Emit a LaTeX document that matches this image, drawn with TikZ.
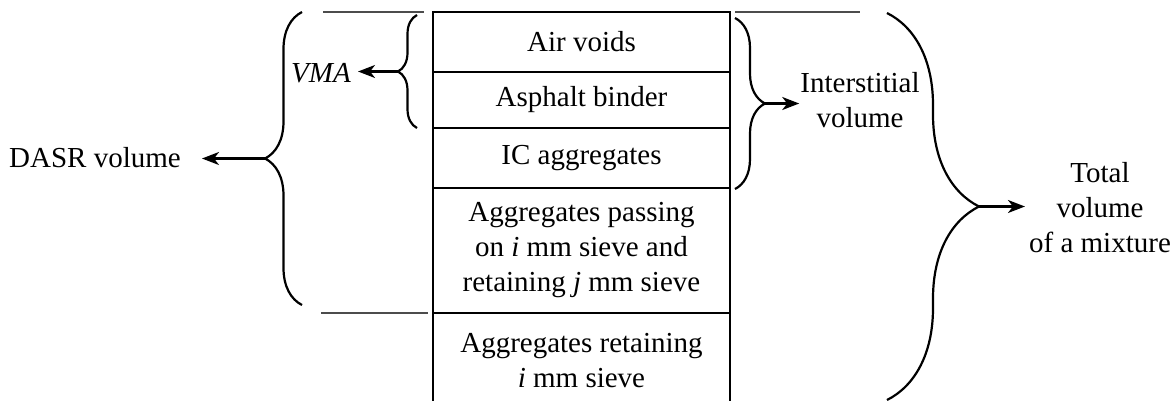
\documentclass[tikz,border=0pt]{standalone}
\usepackage{fontspec}
\setmainfont{Liberation Serif}
\usetikzlibrary{calc,arrows.meta,positioning,decorations.pathreplacing}

\begin{document}
\begin{tikzpicture}[x=1pt,y=-1pt,
    cell/.style={draw,line width=2.5pt,outer sep=0pt,minimum width=297pt,align=center,inner sep=0pt},
    brc/.style={decorate,decoration={brace,amplitude=#1},line width=2.2pt},
    guide/.style={black!70,line width=1.3pt},
    pointer/.style={-{Stealth[length=17pt,width=13pt,inset=5pt]},line width=2.2pt},
    lbl/.style={align=center,inner sep=0pt},
    every node/.style={font=\fontsize{29}{35}\selectfont}]

  \useasboundingbox (0,0) rectangle (1176,400);
  \clip (0,0) rectangle (1176,400);

  %% Column of the mixture
  \node[cell,minimum height=60pt,anchor=north] (air) at (581.5,12) {Air voids};
  \node[cell,minimum height=56pt,below=0pt of air] (binder) {Asphalt binder};
  \node[cell,minimum height=60pt,below=0pt of binder] (ic) {IC aggregates};
  \node[cell,minimum height=125pt,below=0pt of ic] (pass)
    {Aggregates passing\\on \textit{i} mm sieve and\\retaining \textit{j} mm sieve};
  \node[cell,minimum height=95pt,below=0pt of pass] (retain)
    {Aggregates retaining\\\textit{i} mm sieve};

  %% thin guide lines
  \draw[guide] (323,12) -- (424,12);
  \draw[guide] (735,12) -- (860,12);
  \draw[guide] (321,313) -- (428,313);

  %% brace ends and tips
  \coordinate (dasrtop) at (302,12);
  \coordinate (dasrbot) at (302,305);
  \coordinate (dasrtip) at ($(dasrtop)!.5!(dasrbot)+(-37,0)$);
  \coordinate (vmatop) at (417,15);
  \coordinate (vmabot) at (417,128);
  \coordinate (vmatip) at ($(vmatop)!.5!(vmabot)+(-19,0)$);
  \coordinate (istop) at (735,18);
  \coordinate (isbot) at (735,189);
  \coordinate (istip) at ($(istop)!.5!(isbot)+(30,0)$);
  \coordinate (tottop) at (887,13);
  \coordinate (totbot) at (887,400);
  \coordinate (tottip) at ($(tottop)!.5!(totbot)+(92,0)$);

  \draw[brc=37pt] (dasrbot) -- (dasrtop);
  \draw[brc=19pt] (vmabot) -- (vmatop);
  \draw[brc=30pt] (istop) -- (isbot);
  \draw[brc=92pt] (tottop) -- (totbot);

  %% labels
  \node[lbl] (dasr) at (95,158) {DASR volume};
  \node[lbl] (vma) at (321,73) {\textit{VMA}};
  \node[lbl] (inter) at (860,100) {Interstitial\\volume};
  \node[lbl] (total) at (1100,208) {Total\\volume\\of a mixture};

  \draw[pointer] (dasrtip) -- ($(dasrtip -| dasr.east)+(21,0)$);
  \draw[pointer] (vmatip) -- ($(vmatip -| vma.east)+(7,0)$);
  \draw[pointer] (istip) -- ($(istip -| inter.west)+(-1,0)$);
  \draw[pointer] (tottip) -- ($(tottip -| total.west)+(-4,0)$);

\end{tikzpicture}
\end{document}
